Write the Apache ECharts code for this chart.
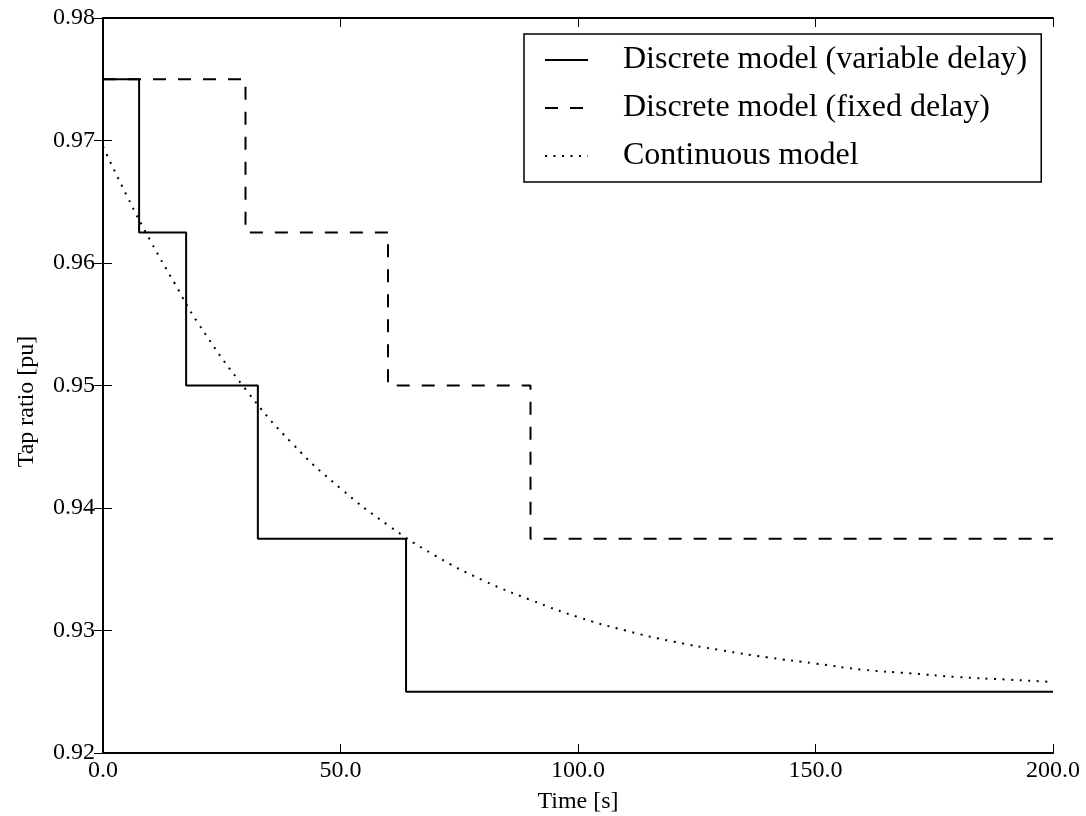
<!DOCTYPE html>
<html>
<head>
<meta charset="utf-8">
<script src="https://cdn.jsdelivr.net/npm/echarts@6/dist/echarts.min.js"></script>
<style>html,body{margin:0;padding:0;background:#fff}#c{width:1086px;height:816px}</style>
</head>
<body>
<div id="c"></div>
<script>
// Data
const varTimes = [0, 7.6, 17.5, 32.6, 63.8, 200];
const varTap = [0.975, 0.9625, 0.95, 0.9375, 0.925, 0.925];
const fixTimes = [0, 30, 60, 90, 200];
const fixTap = [0.975, 0.9625, 0.95, 0.9375, 0.9375];
const contTimes = [0, 5, 10, 15, 20, 30, 40, 50, 60, 70, 80, 90, 100, 110, 120, 130, 140, 150, 160, 170, 180, 190, 200];
const contTap = [0.9695, 0.9655, 0.9618, 0.9584, 0.9551, 0.9497, 0.9452, 0.9416, 0.9386, 0.9361, 0.9341, 0.9325, 0.9311, 0.9300, 0.9291, 0.9284, 0.9278, 0.9273, 0.9268, 0.9265, 0.9262, 0.9260, 0.9258];
const seriesNames = ['Discrete model (variable delay)', 'Discrete model (fixed delay)', 'Continuous model'];
const xTitle = 'Time [s]';
const yTitle = 'Tap ratio [pu]';

const zip = (a, b) => a.map((v, i) => [v, b[i]]);
const FONT = 'Liberation Serif';
const chart = echarts.init(document.getElementById('c'), null, {renderer: 'canvas'});
const axisLine = {show: true, lineStyle: {color: '#000', width: 2}};
const tick = {show: true, inside: true, length: 9, lineStyle: {color: '#000', width: 1}};
chart.setOption({
  backgroundColor: '#fff',
  animation: false,
  grid: {left: 103, right: 33, top: 18, bottom: 63, containLabel: false, outerBoundsMode: 'none'},
  legend: {
    left: 524, top: 34, orient: 'vertical',
    backgroundColor: '#fff', borderColor: '#000', borderWidth: 1.5,
    padding: [10, 14, 10, 20],
    itemWidth: 43, itemHeight: 14, itemGap: 16,
    itemStyle: {opacity: 0},
    textStyle: {fontFamily: FONT, fontSize: 32, color: '#000', padding: [0, 0, 0, 30]},
    data: seriesNames
  },
  xAxis: [
    {type: 'value', min: 0, max: 200, interval: 50, position: 'bottom',
     name: xTitle, nameLocation: 'middle', nameGap: 37,
     nameTextStyle: {fontFamily: FONT, fontSize: 24, color: '#000'},
     axisLine, axisTick: tick, splitLine: {show: false},
     axisLabel: {fontFamily: FONT, fontSize: 24, color: '#000', margin: 6, formatter: v => v.toFixed(1)}},
    {type: 'value', min: 0, max: 200, interval: 50, position: 'top',
     axisLine, axisTick: tick, splitLine: {show: false}, axisLabel: {show: false}}
  ],
  yAxis: [
    {type: 'value', min: 0.92, max: 0.98, interval: 0.01, position: 'left',
     name: yTitle, nameLocation: 'middle', nameGap: 64,
     nameTextStyle: {fontFamily: FONT, fontSize: 24, color: '#000', padding: [0, 32, 0, 0]},
     axisLine, axisTick: tick, splitLine: {show: false},
     axisLabel: {fontFamily: FONT, fontSize: 24, color: '#000', margin: 8, padding: [6, 0, 0, 0], formatter: v => v.toFixed(2)}},
    {type: 'value', min: 0.92, max: 0.98, interval: 0.01, position: 'right',
     axisLine, axisTick: tick, splitLine: {show: false}, axisLabel: {show: false}}
  ],
  series: [
    {name: seriesNames[0], type: 'line', step: 'end', symbol: 'none', data: zip(varTimes, varTap),
     lineStyle: {color: '#000', width: 2, type: 'solid'}, itemStyle: {color: '#000'}},
    {name: seriesNames[1], type: 'line', step: 'end', symbol: 'none', data: zip(fixTimes, fixTap),
     lineStyle: {color: '#000', width: 2, type: [13, 12]}, itemStyle: {color: '#000'}},
    {name: seriesNames[2], type: 'line', smooth: true, symbol: 'none', data: zip(contTimes, contTap),
     lineStyle: {color: '#000', width: 2, type: [2, 6.5]}, itemStyle: {color: '#000'}}
  ]
});
</script>
</body>
</html>
